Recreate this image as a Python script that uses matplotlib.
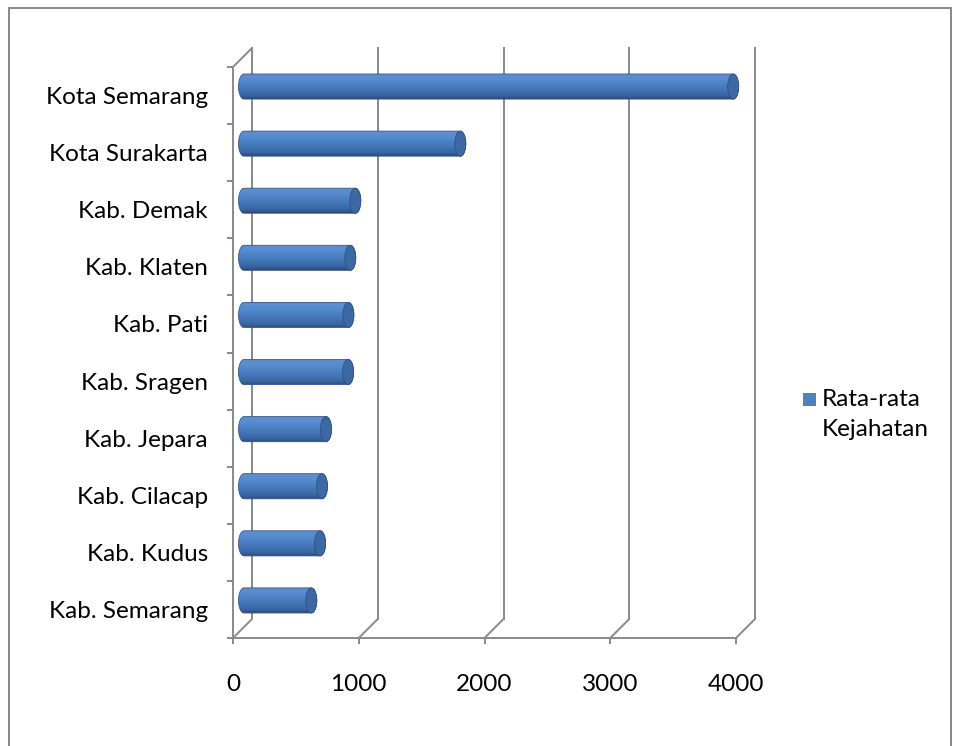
import numpy as np
import matplotlib
matplotlib.use('Agg')
import matplotlib.pyplot as plt
from matplotlib import transforms
from matplotlib.patches import Ellipse, PathPatch, Rectangle, ConnectionPatch
from matplotlib.path import Path
from matplotlib.colors import LinearSegmentedColormap

# data (bottom to top, as drawn)
regions = ['Kab. Semarang', 'Kab. Kudus', 'Kab. Cilacap', 'Kab. Jepara', 'Kab. Sragen',
           'Kab. Pati', 'Kab. Klaten', 'Kab. Demak', 'Kota Surakarta', 'Kota Semarang']
values = [535, 605, 620, 652, 828, 830, 845, 885, 1720, 3890]
xticks = [0, 1000, 2000, 3000, 4000]
series_label = ['Rata-rata', 'Kejahatan']

W, H = 958, 746
DPI = 100
PX = 72 / DPI  # pixels -> points
FONT = 'Lato'
FS = 17.5
GRID = '#8c8c8c'
BLUE = '#4f81bd'

fig = plt.figure(figsize=(W / DPI, H / DPI), dpi=DPI)
fig.patch.set_facecolor('white')

# outer chart border
fig.patches.append(Rectangle((9 / W, -0.1), (951 - 9) / W, (H - 8) / H + 0.1,
                             transform=fig.transFigure, fill=False,
                             edgecolor='#8a8a8a', linewidth=2 * PX))

# front plane of the 3D plot
ax = fig.add_axes([233 / W, (H - 638) / H, (736 - 233) / W, (638 - 67) / H])
ax.set_xlim(0, 4000)
ax.set_ylim(-0.5, len(regions) - 0.5)
ax.set_facecolor('none')

back_tr = transforms.offset_copy(ax.transData, fig=fig, x=19, y=19, units='dots')
bar_tr = transforms.offset_copy(ax.transData, fig=fig, x=11, y=9, units='dots')

ylo, yhi = -0.5, len(regions) - 0.5

# back wall gridlines and floor diagonals
for xv in xticks:
    ax.plot([xv, xv], [ylo, yhi], color=GRID, lw=2 * PX, transform=back_tr,
            clip_on=False, zorder=1)
    ax.add_artist(ConnectionPatch((xv, ylo), (xv, ylo), coordsA=ax.transData,
                                  coordsB=back_tr, color=GRID, lw=2 * PX, zorder=1))
ax.add_artist(ConnectionPatch((0, yhi), (0, yhi), coordsA=ax.transData,
                              coordsB=back_tr, color=GRID, lw=2 * PX, zorder=1))

# cylinder bars
cmap = LinearSegmentedColormap.from_list('cyl', [
    (0.0, '#2b4a78'), (0.12, '#3963a0'), (0.45, '#477bbd'),
    (0.75, '#578bd0'), (0.9, '#5b8fd2'), (1.0, '#7088ab')])
grad = np.linspace(0, 1, 64)[:, None]
bar_h = 0.44
ew = 11 * 4000 / 503  # cap ellipse width in data units (~11 px)
th_l = np.linspace(np.pi / 2, 3 * np.pi / 2, 40)
th_r = np.linspace(-np.pi / 2, np.pi / 2, 40)
for i, v in enumerate(values):
    y0, y1 = i - bar_h / 2, i + bar_h / 2
    left = np.column_stack([ew / 2 * np.cos(th_l), i + bar_h / 2 * np.sin(th_l)])
    right = np.column_stack([v + ew / 2 * np.cos(th_r), i + bar_h / 2 * np.sin(th_r)])
    verts = np.vstack([left, right, left[:1]])
    path = Path(verts, closed=True)
    clip = PathPatch(path, transform=bar_tr, facecolor='none', edgecolor='#34578a',
                     lw=0.8 * PX, zorder=4, clip_on=False)
    ax.add_patch(clip)
    im = ax.imshow(grad, cmap=cmap, origin='lower', aspect='auto',
                   extent=[-ew, v + ew, y0, y1], transform=bar_tr, zorder=3)
    im.set_clip_box(None)
    im.set_clip_path(clip)
    ax.add_patch(Ellipse((v, i), ew, bar_h, transform=bar_tr, facecolor='#3c68a3',
                         edgecolor='#2e5282', lw=0.8 * PX, zorder=5, clip_on=False))

ax.set_xlim(0, 4000)
ax.set_ylim(ylo, yhi)

# axes lines, ticks, labels
for s in ['top', 'right']:
    ax.spines[s].set_visible(False)
for s in ['left', 'bottom']:
    ax.spines[s].set_color(GRID)
    ax.spines[s].set_linewidth(2 * PX)
    ax.spines[s].set_zorder(6)

ax.set_xticks(xticks)
ax.set_xticklabels([str(t) for t in xticks], fontsize=FS, family=FONT)
ax.tick_params(axis='x', length=6 * PX, width=2 * PX, color=GRID, pad=30 * PX)

ax.set_yticks(np.arange(len(regions)))
ax.set_yticklabels(regions, fontsize=FS, family=FONT)
ax.set_yticks(np.arange(len(regions) + 1) - 0.5, minor=True)
ax.tick_params(axis='y', which='major', length=0, pad=25 * PX)
ax.tick_params(axis='y', which='minor', length=6 * PX, width=2 * PX, color=GRID)

# legend
fig.patches.append(Rectangle((803 / W, (H - 406) / H), 13 / W, 13 / H,
                             transform=fig.transFigure, facecolor=BLUE,
                             edgecolor='none'))
fig.text(822 / W, (H - 399) / H, series_label[0], fontsize=FS, family=FONT,
         va='center', ha='left')
fig.text(822 / W, (H - 430) / H, series_label[1], fontsize=FS, family=FONT,
         va='center', ha='left')

fig.savefig('out.png', dpi=DPI)
